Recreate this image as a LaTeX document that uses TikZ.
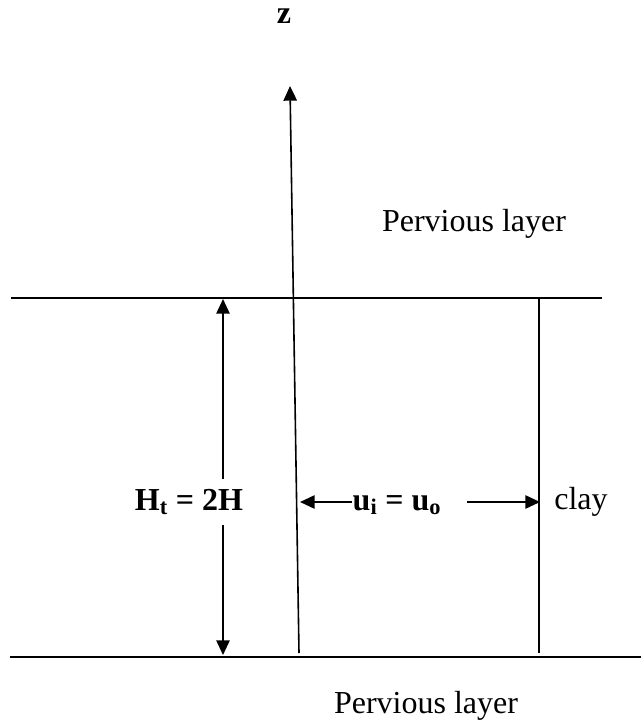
\documentclass[tikz,border=0pt]{standalone}
\usepackage{fontspec}
\setmainfont{Liberation Serif}
\usetikzlibrary{arrows.meta,positioning}

\begin{document}
\begin{tikzpicture}[x=0.75pt,y=-0.75pt,
  font=\fontsize{24}{28}\selectfont,
  line width=1.2pt,
  tip/.style={-{Triangle[length=11pt,width=10pt]}},
  dim/.style={{Triangle[length=11pt,width=10pt]}-{Triangle[length=11pt,width=10pt]}},
  lbl/.style={fill=white, inner xsep=2pt, inner ysep=7.5pt},
  txt/.style={anchor=base, inner sep=0pt}]
\useasboundingbox (0,0) rectangle (641,724);

% Layer boundaries
\coordinate (tl) at (11,298);
\coordinate (tr) at (602,298);
\coordinate (bl) at (10,657);
\coordinate (br) at (641,657);
\draw (tl) -- (tr);
\draw (bl) -- (br);

% Clay edge
\coordinate (ct) at (539,298);
\coordinate (cb) at (539,653);
\draw (ct) -- (cb);

% z axis
\node[txt] (zlab) at (284,24) {\textbf{z}};
\coordinate (z0) at (299,653);
\coordinate (ztip) at (290,86);
\draw[tip] (z0) -- (ztip);

% Layer thickness
\coordinate (ht) at (223,299);
\coordinate (hb) at (223,655);
\draw[dim] (ht) -- (hb);
\node[lbl, anchor=base] (hlab) at (189,510) {\textbf{H\textsubscript{t} = 2H}};

% Displacement
\coordinate (uL) at (300,502);
\coordinate (uR) at (540,502);
\node[txt] (ulab) at (397,510) {\textbf{u\textsubscript{i} = u\textsubscript{o}}};
\draw[tip] (ulab.west |- uL) -- (uL);
\draw[tip] ([xshift=18.75pt]ulab.east |- uR) -- (uR);

% Labels
\node[txt] (clay) at (581,509) {clay};
\node[txt] (ptop) at (474,231) {Pervious layer};
\node[txt] (pbot) at (426,713) {Pervious layer};

\end{tikzpicture}
\end{document}
